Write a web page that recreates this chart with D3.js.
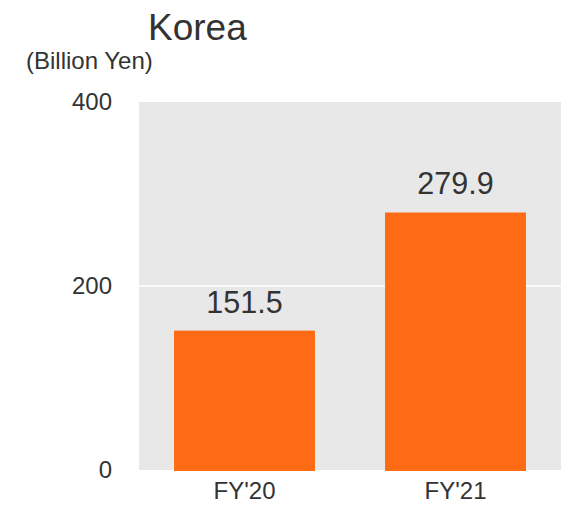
<!DOCTYPE html>
<html>
<head>
<meta charset="utf-8">
<script src="https://cdn.jsdelivr.net/npm/d3@7"></script>
<style>
  html, body { margin: 0; padding: 0; background: #fff; }
  svg { display: block; font-family: "Liberation Sans", Arial, sans-serif; }
</style>
</head>
<body>
<svg id="chart" width="577" height="507"></svg>
<script>
const categories = ["FY'20", "FY'21"];
const values = [151.5, 279.9];
const valueLabels = ["151.5", "279.9"];
const yTicks = [0, 200, 400];
const title = "Korea";
const unitLabel = "(Billion Yen)";

const svg = d3.select("#chart");
const margin = { left: 139, right: 16, top: 102, bottom: 37 };
const W = 577, H = 507;
const x0 = margin.left, x1 = W - margin.right;
const y0 = H - margin.bottom, y1 = margin.top;

const x = d3.scaleBand().domain(categories).range([x0, x1]).paddingInner(0.332).paddingOuter(0.166);
const y = d3.scaleLinear().domain([0, 400]).range([y0, y1]);

const textColor = "#333333";

// plot background
svg.append("rect")
  .attr("x", x0).attr("y", y1)
  .attr("width", x1 - x0).attr("height", y0 - y1)
  .attr("fill", "#e8e8e8");

// gridlines
svg.append("g").selectAll("line")
  .data(yTicks.filter(t => t > 0 && t < 400))
  .join("line")
  .attr("x1", x0).attr("x2", x1)
  .attr("y1", d => y(d)).attr("y2", d => y(d))
  .attr("stroke", "#ffffff").attr("stroke-width", 1.5);

// y axis
const yAxis = svg.append("g")
  .attr("transform", `translate(${x0},0)`)
  .call(d3.axisLeft(y).tickValues(yTicks).tickSize(0).tickPadding(27).tickFormat(d3.format("d")));
yAxis.select(".domain").remove();
yAxis.selectAll("text")
  .attr("font-size", 24).attr("fill", textColor)
  .attr("font-family", "Liberation Sans, Arial, sans-serif");

// bars
svg.append("g").selectAll("rect")
  .data(values)
  .join("rect")
  .attr("x", (d, i) => x(categories[i]))
  .attr("width", x.bandwidth())
  .attr("y", d => y(d))
  .attr("height", d => y(0) - y(d) + 1)
  .attr("fill", "#ff6b14");

// value labels
svg.append("g").selectAll("text")
  .data(values)
  .join("text")
  .attr("x", (d, i) => x(categories[i]) + x.bandwidth() / 2)
  .attr("y", d => y(d) - 18)
  .attr("text-anchor", "middle")
  .attr("font-size", 30.5)
  .attr("fill", textColor)
  .text((d, i) => valueLabels[i]);

// x axis
const xAxis = svg.append("g")
  .attr("transform", `translate(0,${y0})`)
  .call(d3.axisBottom(x).tickSize(0).tickPadding(12));
xAxis.select(".domain").remove();
xAxis.selectAll("text")
  .attr("font-size", 24).attr("fill", textColor)
  .attr("font-family", "Liberation Sans, Arial, sans-serif");

// title
svg.append("text")
  .attr("x", 148).attr("y", 40)
  .attr("font-size", 37)
  .attr("fill", textColor)
  .text(title);

svg.append("text")
  .attr("x", 26).attr("y", 69)
  .attr("font-size", 24)
  .attr("fill", textColor)
  .text(unitLabel);
</script>
</body>
</html>
